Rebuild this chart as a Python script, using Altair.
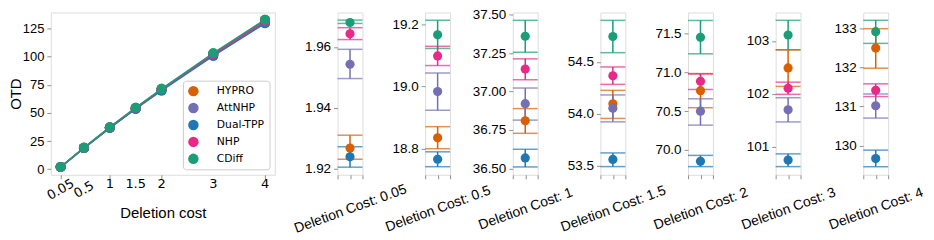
import altair as alt
import pandas as pd

methods = ["HYPRO", "AttNHP", "Dual-TPP", "NHP", "CDiff"]
colors = ["#d95f02", "#7570b3", "#1f77b4", "#e7298a", "#1b9e77"]
costs = [0.05, 0.5, 1, 1.5, 2, 3, 4]
cost_labels = ["0.05", "0.5", "1", "1.5", "2", "3", "4"]

hypro_mean = [1.9268, 18.835, 36.81, 54.095, 70.765, 102.489, 132.49]
hypro_lo = [1.9231, 18.80, 36.728, 53.953, 70.545, 102.14, 131.975]
hypro_hi = [1.9310, 18.871, 36.889, 54.224, 70.985, 102.83, 132.985]

attnhp_mean = [1.9543, 18.984, 36.921, 54.051, 70.50, 101.698, 131.015]
attnhp_lo = [1.9496, 18.924, 36.814, 53.92, 70.32, 101.469, 130.70]
attnhp_hi = [1.9592, 19.044, 37.023, 54.18, 70.66, 101.926, 131.316]

dualtpp_mean = [1.9239, 18.766, 36.568, 53.557, 69.853, 100.748, 129.665]
dualtpp_lo = [1.9205, 18.742, 36.509, 53.488, 69.785, 100.624, 129.456]
dualtpp_hi = [1.9272, 18.790, 36.624, 53.62, 69.93, 100.865, 129.88]

nhp_mean = [1.9643, 19.099, 37.147, 54.365, 70.886, 102.105, 131.41]
nhp_lo = [1.9624, 19.068, 37.077, 54.282, 70.78, 101.99, 131.25]
nhp_hi = [1.9663, 19.130, 37.213, 54.45, 70.98, 102.22, 131.575]

cdiff_mean = [1.9680, 19.167, 37.36, 54.743, 71.453, 103.111, 132.91]
cdiff_lo = [1.9677, 19.123, 37.256, 54.588, 71.24, 102.833, 132.61]
cdiff_hi = [1.9688, 19.214, 37.464, 54.90, 71.67, 103.389, 133.20]

panel_domains = [[1.918, 1.9713], [18.716, 19.239], [36.458, 37.515],
                 [53.409, 54.976], [69.68, 71.773], [100.47, 103.537],
                 [129.25, 133.40]]
panel_ticks = [[1.92, 1.94, 1.96], [18.8, 19.0, 19.2],
               [36.5, 36.75, 37.0, 37.25, 37.5], [53.5, 54.0, 54.5],
               [70.0, 70.5, 71.0, 71.5], [101, 102, 103], [130, 131, 132, 133]]
panel_formats = [".2f", ".1f", ".2f", ".1f", ".1f", "d", "d"]

left_y_ticks = [0, 25, 50, 75, 100, 125]
left_y_domain = [-4.9, 139.3]
left_x_domain = [-0.14, 4.19]

means = [hypro_mean, attnhp_mean, dualtpp_mean, nhp_mean, cdiff_mean]
lows = [hypro_lo, attnhp_lo, dualtpp_lo, nhp_lo, cdiff_lo]
highs = [hypro_hi, attnhp_hi, dualtpp_hi, nhp_hi, cdiff_hi]

rows = []
for mi, m in enumerate(methods):
    for ci, c in enumerate(costs):
        rows.append({"method": m, "cost": c, "idx": ci, "order": mi,
                     "mean": means[mi][ci], "lo": lows[mi][ci], "hi": highs[mi][ci]})
df = pd.DataFrame(rows)
labels_df = pd.DataFrame({"cost": costs, "label": cost_labels})

FONT = "DejaVu Sans"
GRAY = "#8f8f8f"
color_scale = alt.Scale(domain=methods, range=colors)

# ---------------- left panel ----------------
LW, LH = 225, 163
x_left = alt.X("cost:Q",
               scale=alt.Scale(domain=left_x_domain, nice=False, zero=False),
               axis=alt.Axis(values=costs, labels=False, tickSize=4, tickColor=GRAY,
                             domain=False, grid=False, title="Deletion cost",
                             titleFontSize=15, titleFontWeight="normal",
                             titleX=LW / 2, titleY=38, titleAlign="center",
                             titleBaseline="middle", titleColor="black"))
y_left = alt.Y("mean:Q",
               scale=alt.Scale(domain=left_y_domain, nice=False, zero=False),
               axis=alt.Axis(values=left_y_ticks, labelFontSize=13, tickSize=4,
                             tickColor=GRAY, domain=False, grid=False, title="OTD",
                             titleFontSize=15, titleFontWeight="normal",
                             titleX=-35, titleY=LH / 2, titleAngle=270,
                             titleAlign="center", titleBaseline="middle",
                             titleColor="black", labelPadding=3))

legend = alt.Legend(orient="none", legendX=132.7, legendY=68.5,
                    title=None, symbolType="circle", symbolSize=110,
                    labelFontSize=10.8, labelFont=FONT, labelColor="black",
                    labelOffset=18,
                    strokeColor="#cccccc", cornerRadius=3,
                    padding=5, rowPadding=5,
                    fillColor="white", symbolStrokeWidth=0,
                    symbolOpacity=1)

base_left = alt.Chart(df)
lines = base_left.mark_line(strokeWidth=1.5).encode(
    x=x_left, y=y_left,
    color=alt.Color("method:N", scale=color_scale, legend=None),
    order=alt.Order("cost:Q"))
pts = base_left.mark_circle(size=100, opacity=1).encode(
    x=x_left, y=y_left,
    color=alt.Color("method:N", scale=color_scale, legend=legend),
    order=alt.Order("order:Q"))

lab_h = alt.Chart(labels_df).transform_filter("datum.cost >= 0.75").mark_text(
    fontSize=13, font=FONT, align="center", baseline="middle", color="black").encode(
    x=alt.X("cost:Q", scale=alt.Scale(domain=left_x_domain, nice=False, zero=False)),
    y=alt.value(LH + 9.5), text="label:N")
lab_r = alt.Chart(labels_df).transform_filter("datum.cost < 0.75").mark_text(
    fontSize=13, font=FONT, align="center", baseline="middle", color="black",
    angle=330).encode(
    x=alt.X("cost:Q", scale=alt.Scale(domain=left_x_domain, nice=False, zero=False)),
    y=alt.value(LH + 15), text="label:N")

left = alt.layer(pts, lines, pts, lab_h, lab_r).properties(width=LW, height=LH)

# ---------------- small panels ----------------
PW = 25


def panel(i):
    d = df[df["idx"] == i]
    ysc = alt.Scale(domain=panel_domains[i], nice=False, zero=False)
    yax = alt.Axis(values=panel_ticks[i], format=panel_formats[i], labelFontSize=13.5,
                   tickSize=4, tickColor=GRAY, domain=False, grid=False, title=None,
                   labelPadding=3)
    xsc = alt.Scale(domain=[-1, 1], nice=False, zero=False)
    xax = alt.Axis(values=[-1, 0, 1], labels=False, tickSize=4, tickColor=GRAY,
                   domain=False, grid=False, title=f"Deletion Cost: {cost_labels[i]}",
                   titleAngle=340, titleFontSize=14, titleFontWeight="normal",
                   titleX=PW / 2, titleY=34, titleAlign="center",
                   titleBaseline="middle", titleColor="black")
    col = alt.Color("method:N", scale=color_scale, legend=None)
    b = alt.Chart(d)
    cap_lo = b.mark_rule(strokeWidth=1.5, opacity=0.7).encode(
        x=alt.X(datum=-1, scale=xsc, axis=xax), x2=alt.X2(datum=1),
        y=alt.Y("lo:Q", scale=ysc, axis=yax), color=col)
    cap_hi = b.mark_rule(strokeWidth=1.5, opacity=0.7).encode(
        x=alt.X(datum=-1, scale=xsc, axis=xax), x2=alt.X2(datum=1),
        y=alt.Y("hi:Q", scale=ysc, axis=yax), color=col)
    bar = b.mark_rule(strokeWidth=1.5).encode(
        x=alt.X(datum=0, scale=xsc, axis=xax),
        y=alt.Y("lo:Q", scale=ysc, axis=yax), y2="hi:Q", color=col)
    pt = b.mark_circle(size=85, opacity=1).encode(
        x=alt.X(datum=0, scale=xsc, axis=xax),
        y=alt.Y("mean:Q", scale=ysc, axis=yax), color=col,
        order=alt.Order("order:Q"))
    return alt.layer(cap_lo, cap_hi, bar, pt).properties(width=PW, height=LH)


panels = [panel(i) for i in range(len(costs))]

chart = alt.hconcat(left, *panels, spacing=63, bounds="flush").resolve_scale(
    x="independent", y="independent", color="independent").resolve_legend(
    color="independent").properties(
    padding={"left": 0, "top": -2, "right": 0, "bottom": 0}
).configure_view(stroke=GRAY, strokeWidth=1).configure_axis(
    labelFont=FONT, titleFont=FONT, labelColor="black"
).configure(background="white")

chart.save("out.html", embed_options={"renderer": "svg", "actions": False})
